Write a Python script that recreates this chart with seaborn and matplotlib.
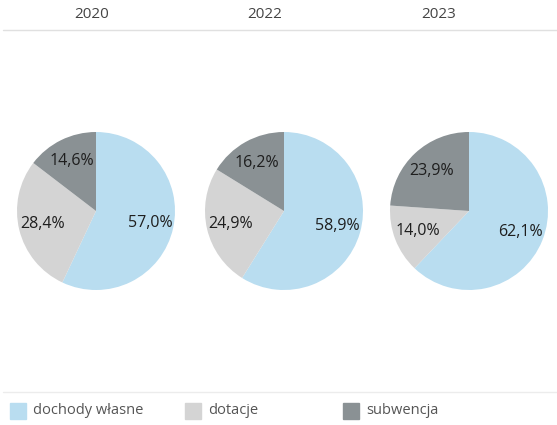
import matplotlib
matplotlib.use("Agg")
import matplotlib.pyplot as plt
import seaborn as sns
from matplotlib.patches import Rectangle
from matplotlib.lines import Line2D

years = ["2020", "2022", "2023"]
categories = ["dochody własne", "dotacje", "subwencja"]
dochody = [57.0, 58.9, 62.1]
dotacje = [28.4, 24.9, 14.0]
subwencja = [14.6, 16.2, 23.9]

colors = ["#b9ddf0", "#d4d4d4", "#8a9194"]

sns.set_theme(style="white")
plt.rcParams['font.family'] = ['Open Sans', 'DejaVu Sans']

fig = plt.figure(figsize=(5.57, 4.25), dpi=100)

W, H = 557, 425
pie_cx = [96, 284, 469]
header_x = [92, 265, 439]
pie_cy = 211
r = 79


def fmt(p):
    return f"{p:.1f}%".replace(".", ",")


for i, year in enumerate(years):
    ax = fig.add_axes([(pie_cx[i] - r) / W, 1 - (pie_cy + r) / H, 2 * r / W, 2 * r / H])
    vals = [dochody[i], dotacje[i], subwencja[i]]
    ax.pie(vals, colors=colors, startangle=90, counterclock=False,
           autopct=fmt, pctdistance=0.7,
           textprops=dict(fontsize=11.5, color="#1e1e1e"),
           wedgeprops=dict(linewidth=0))
    ax.set_xlim(-1, 1)
    ax.set_ylim(-1, 1)
    ax.set_aspect("equal")
    ax.axis("off")
    fig.text(header_x[i] / W, 1 - 15 / H, year, ha="center", va="center",
             fontsize=11, color="#444444")

# separator lines
fig.add_artist(Line2D([3 / W, 1], [1 - 30 / H, 1 - 30 / H], color="#e0e0e0", lw=1))
fig.add_artist(Line2D([3 / W, 1], [1 - 392 / H, 1 - 392 / H], color="#ececec", lw=1))

# legend
leg_sq = [10, 185, 343]
for i, cat in enumerate(categories):
    fig.add_artist(Rectangle((leg_sq[i] / W, 1 - 419 / H), 16 / W, 16 / H,
                             color=colors[i], transform=fig.transFigure))
    fig.text((leg_sq[i] + 23) / W, 1 - 411 / H, cat, ha="left", va="center",
             fontsize=10.5, color="#555555")

fig.savefig("out.png", dpi=100)
